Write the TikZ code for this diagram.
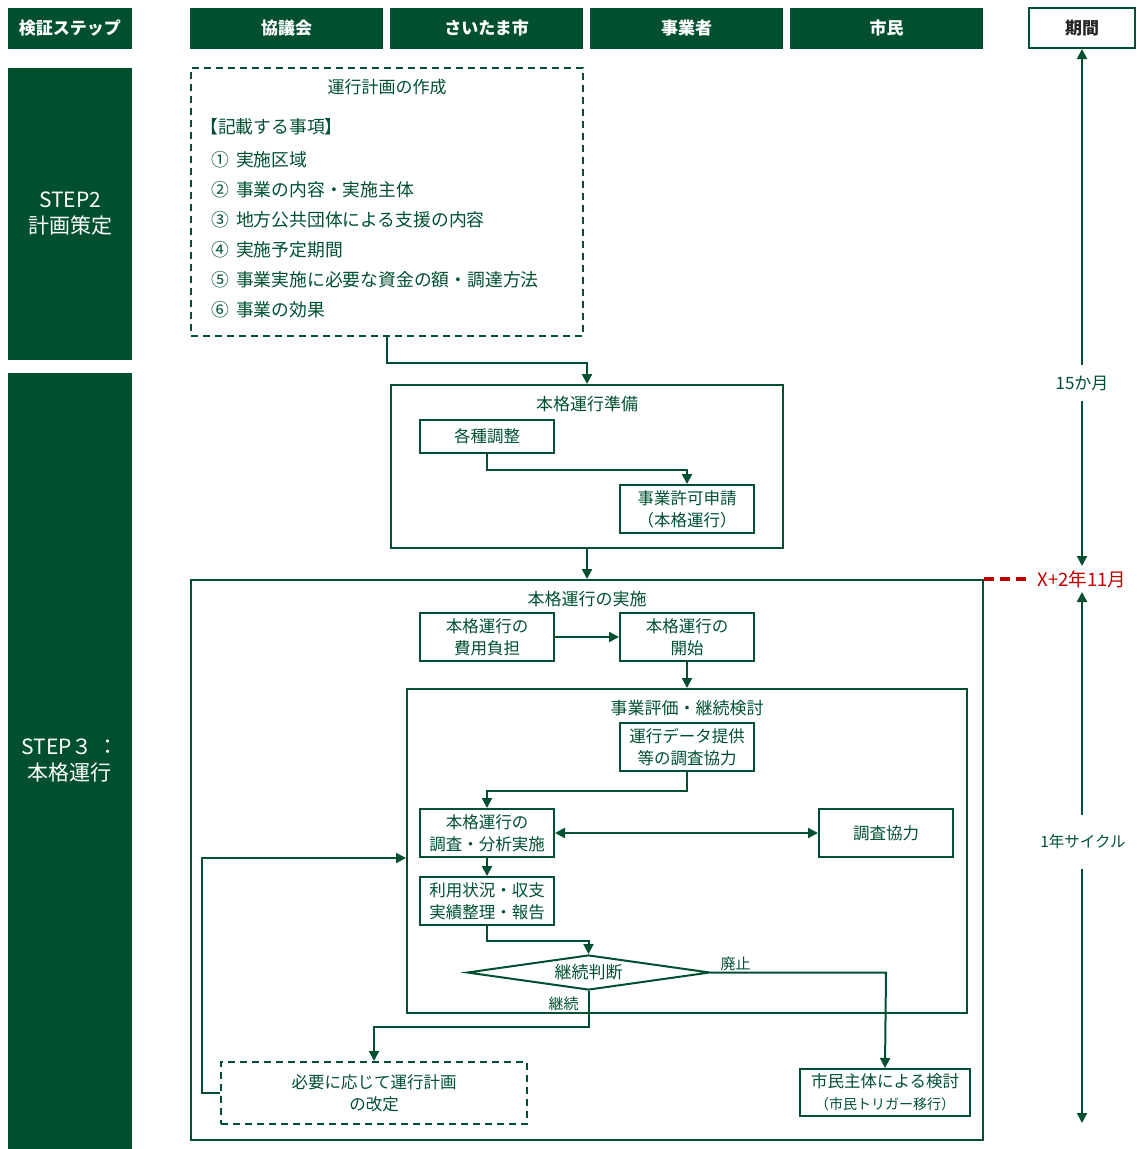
\documentclass[tikz,border=0pt]{standalone}
\usepackage{fontspec}
\setmainfont{Noto Sans CJK JP}
\usetikzlibrary{shapes.geometric,arrows.meta,positioning,calc}

\definecolor{stepgreen}{RGB}{0,80,48}
\definecolor{dueRed}{RGB}{192,0,0}

\tikzset{
  >={Triangle[length=10pt,width=10pt]},
  head/.style={fill=stepgreen, text=white, minimum height=41pt, inner sep=0pt,
    font=\fontsize{17}{20}\selectfont\bfseries},
  stepcol/.style={fill=stepgreen, text=white, minimum width=124pt, inner sep=0pt,
    align=center, font=\fontsize{21}{26}\selectfont},
  stagebox/.style={draw=stepgreen, line width=2pt, inner sep=0pt},
  taskbox/.style={draw=stepgreen, line width=2pt, text=stepgreen, minimum width=134pt,
    minimum height=48pt, inner sep=1pt, align=center, font=\fontsize{16.5}{22}\selectfont},
  lbl/.style={text=stepgreen, inner sep=1pt, font=\fontsize{17}{20}\selectfont},
  itemtxt/.style={lbl, anchor=west, font=\fontsize{17.8}{22}\selectfont},
  conn/.style={draw=stepgreen, line width=2pt, ->},
  dashbox/.style={dash pattern=on 7pt off 5pt},
}
\newcommand{\numgap}{\hspace{0.4em}}

\begin{document}
\begin{tikzpicture}[x=1pt, y=-1pt]
\useasboundingbox (0,0) rectangle (1136,1149);
% header row
\node[head, minimum width=124pt] (hstep) at (70,28.5) {検証ステップ};
\node[head, minimum width=193pt] (hcouncil) at (286.5,28.5) {協議会};
\node[head, minimum width=193pt] (hcity) at (486.5,28.5) {さいたま市};
\node[head, minimum width=193pt] (hoperator) at (686.5,28.5) {事業者};
\node[head, minimum width=193pt] (hcitizen) at (886.5,28.5) {市民};
\node[taskbox, minimum width=106pt, minimum height=40pt, text=black!85,
  font=\fontsize{17}{20}\selectfont\bfseries] (period) at (1082,28) {期間};

% step column
\node[stepcol, minimum height=292pt] (step2) at (70,214) {STEP2\\計画策定};
\node[stepcol, minimum height=776pt] (step3) at (70,761) {STEP３ ：\\本格運行};

% plan drafting
\node[stagebox, dashbox, minimum width=392pt, minimum height=268pt] (plan) at (387,202) {};
\node[lbl] (plantitle) at (387,87) {運行計画の作成};
\node[itemtxt] (itemhead) at (199,127) {【記載する事項】};
\node[itemtxt] (item1) at (210,160) {①\numgap 実施区域};
\node[itemtxt] (item2) at (210,190) {②\numgap 事業の内容・実施主体};
\node[itemtxt] (item3) at (210,220) {③\numgap 地方公共団体による支援の内容};
\node[itemtxt] (item4) at (210,250) {④\numgap 実施予定期間};
\node[itemtxt] (item5) at (210,280) {⑤\numgap 事業実施に必要な資金の額・調達方法};
\node[itemtxt] (item6) at (210,310) {⑥\numgap 事業の効果};

% preparation
\node[stagebox, minimum width=392pt, minimum height=163pt] (prep) at (587,466.5) {};
\node[lbl] (preptitle) at (587,404) {本格運行準備};
\node[taskbox, minimum height=33pt] (adjust) at (487,436.5) {各種調整};
\node[taskbox] (permit) at (687,509) {事業許可申請\\（本格運行）};

% full operation
\node[stagebox, minimum width=792pt, minimum height=560pt] (impl) at (587,860) {};
\node[lbl] (impltitle) at (587,599) {本格運行の実施};
\node[taskbox] (cost) at (487,637) {本格運行の\\費用負担};
\node[taskbox] (launch) at (687,637) {本格運行の\\開始};

% evaluation
\node[stagebox, minimum width=560pt, minimum height=324pt] (eval) at (687,851) {};
\node[lbl] (evaltitle) at (687,708) {事業評価・継続検討};
\node[taskbox] (data) at (687,747) {運行データ提供\\等の調査協力};
\node[taskbox] (survey) at (487,833) {本格運行の\\調査・分析実施};
\node[taskbox] (coop) at (886,833) {調査協力};
\node[taskbox] (report) at (487,901) {利用状況・収支\\実績整理・報告};
\node[draw=stepgreen, line width=2pt, text=stepgreen, diamond, aspect=7, inner sep=0pt,
  minimum width=243pt, minimum height=35pt, font=\fontsize{17}{20}\selectfont]
  (judge) at (588.5,972.5) {継続判断};

% outcomes
\node[taskbox, dashbox, minimum width=306pt, minimum height=62pt] (revise) at (374,1093)
  {必要に応じて運行計画\\の改定};
\node[taskbox, minimum width=170pt, minimum height=47pt] (citizen) at (885,1092.5)
  {市民主体による検討\\{\fontsize{14}{18}\selectfont（市民トリガー移行）}};

% connectors
\draw[conn] (plan.south) -- ++(0,26) -| (prep.north);
\draw[conn] (adjust.south) -- ++(0,16) -| (permit.north);
\draw[conn] (prep.south) -- (impl.north);
\draw[conn] (cost.east) -- (launch.west);
\draw[conn] (launch.south) -- (eval.north);
\draw[conn] (data.south) -- ++(0,19) -| (survey.north);
\draw[conn, <->] (survey.east) -- (coop.west);
\draw[conn] (survey.south) -- (report.north);
\draw[conn] (report.south) -- ++(0,15) -| (judge.north);
\draw[conn] (judge.east) -- node[lbl, above, pos=0.14, font=\fontsize{15}{18}\selectfont] (stoplbl) {廃止}
  ++(175,0) -- (citizen.north);
\draw[conn] (judge.south) -- node[lbl, left=8pt, pos=0.35, font=\fontsize{15}{18}\selectfont] (golbl) {継続}
  ++(0,36) -| (revise.north);
\draw[conn] (revise.west) -- ++(-18,0) |- (eval.west |- survey.south);

% period axis
\node[lbl, minimum height=36pt, inner sep=0pt] (span15) at (1082,383) {15か月};
\coordinate (due) at (1082,566);
\draw[conn] (span15.north) -- (period.south);
\draw[conn] (span15.south) -- (due);
\node[text=dueRed, inner sep=8pt, font=\fontsize{18.5}{20}\selectfont] (deadline) at (1082,579) {X+2年11月};
\draw[dueRed, line width=3.5pt, dash pattern=on 10pt off 6pt] (impl.north east) -- (deadline.west);
\node[lbl, minimum height=53pt, inner sep=0pt, font=\fontsize{15.5}{18}\selectfont] (cycle) at (1083,842) {1年サイクル};
\coordinate (cycstart) at (1082,592);
\coordinate (cycend) at (1082,1123);
\draw[conn] (cycle.north -| cycstart) -- (cycstart);
\draw[conn] (cycle.south -| cycstart) -- (cycend);
\end{tikzpicture}
\end{document}
